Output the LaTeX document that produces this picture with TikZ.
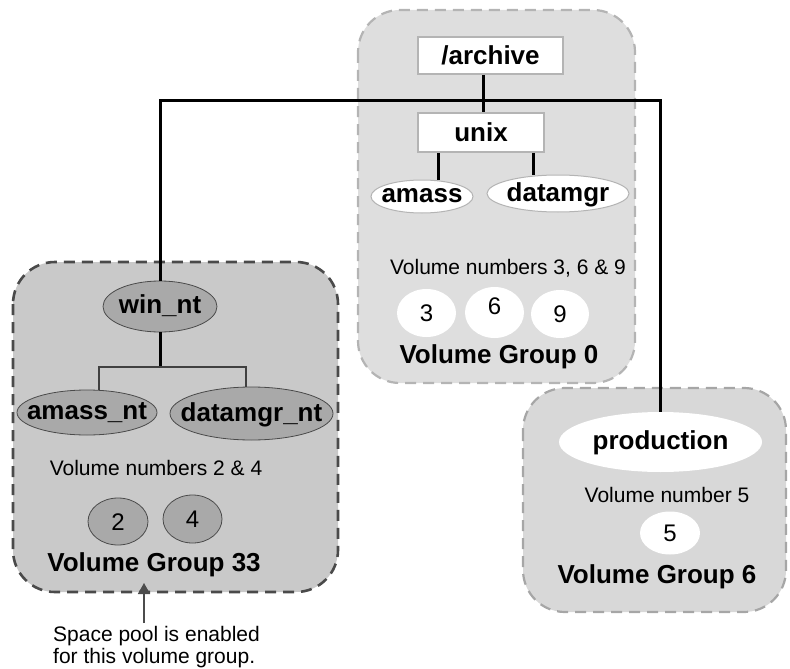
\documentclass[tikz,border=0pt]{standalone}
\usepackage{fontspec}
\setmainfont{Liberation Sans}
\usetikzlibrary{shapes.geometric,arrows.meta}
\definecolor{boxA}{HTML}{DEDEDE}
\definecolor{boxAline}{HTML}{B4B4B4}
\definecolor{boxB}{HTML}{C9C9C9}
\definecolor{boxBline}{HTML}{4A4A4A}
\definecolor{boxC}{HTML}{D8D8D8}
\definecolor{boxCline}{HTML}{A6A6A6}
\definecolor{darknode}{HTML}{A9A9A9}
\newcommand{\ctr}[2][0.3em]{\raisebox{-#1}{\makebox[0pt]{#2}}}
\tikzset{
  groupbox/.style={rounded corners=42pt, line width=2.2pt, dash pattern=on 11pt off 7pt},
  rectnode/.style={draw=boxAline, fill=white, line width=1.8pt, inner sep=0pt, font=\fontsize{26}{28}\selectfont\bfseries},
  fixell/.style={ellipse, inner sep=0pt, outer sep=0pt, text height=0pt, text depth=0pt},
  whiteell/.style={fixell, draw=boxAline, line width=1pt, fill=white, font=\fontsize{26}{28}\selectfont\bfseries},
  darkell/.style={fixell, draw=boxBline, line width=0.8pt, fill=darknode, font=\fontsize{26}{28}\selectfont\bfseries},
  plainell/.style={fixell, fill=white, font=\fontsize{24}{26}\selectfont},
  numell/.style={fixell, draw=boxBline, line width=0.8pt, fill=darknode, font=\fontsize{24}{26}\selectfont},
  note/.style={inner sep=0pt, font=\fontsize{21}{22}\selectfont},
  title/.style={inner sep=0pt, font=\fontsize{26}{28}\selectfont\bfseries},
  conn/.style={line width=3pt, black},
  bracket/.style={line width=2pt, black!75},
}
\begin{document}
\begin{tikzpicture}[x=1pt,y=-1pt]
\useasboundingbox (0,0) rectangle (790,669);
% group boxes
\path[groupbox, fill=boxA, draw=boxAline] (358,10) rectangle (635,383);
\path[groupbox, fill=boxC, draw=boxCline] (523,388) rectangle (786,612);
\path[groupbox, fill=boxB, draw=boxBline, line width=2.6pt] (13,262) rectangle (338,592);

% nodes: volume group 0
\node[rectnode, minimum width=145pt, minimum height=37pt] (archive) at (490.5,55.5) {/archive};
\node[rectnode, minimum width=126pt, minimum height=39pt] (unix) at (481,132.5) {unix};
\node[whiteell, minimum width=102pt, minimum height=33pt] (amass) at (422,196.5) {\ctr[0.22em]{amass}};
\node[whiteell, minimum width=142pt, minimum height=37pt] (datamgr) at (558,193.5) {\ctr{datamgr}};
\node[note] (vn0) at (508,268) {Volume numbers 3, 6 \& 9};
\node[plainell, minimum width=59pt, minimum height=48pt] (v3) at (426.5,313) {\ctr[0.36em]{3}};
\node[plainell, minimum width=59pt, minimum height=51pt] (v6) at (494.5,312.5) {\ctr[0.1em]{6}};
\node[plainell, minimum width=58pt, minimum height=48pt] (v9) at (560,314) {\ctr[0.36em]{9}};
\node[title] (vg0) at (499,357) {Volume Group 0};

% nodes: volume group 33
\node[darkell, minimum width=114pt, minimum height=51pt] (winnt) at (160,306.5) {\ctr[0.27em]{win\_nt}};
\node[darkell, minimum width=140pt, minimum height=45pt] (amassnt) at (87,412.5) {\ctr[0.27em]{amass\_nt}};
\node[darkell, minimum width=163pt, minimum height=53pt] (datamgrnt) at (251.5,413.5) {\ctr{datamgr\_nt}};
\node[note] (vn33) at (156,468) {Volume numbers 2 \& 4};
\node[numell, minimum width=60pt, minimum height=47pt] (v2) at (118,521.5) {\ctr[0.36em]{2}};
\node[numell, minimum width=59pt, minimum height=48pt] (v4) at (192.5,519) {\ctr[0.36em]{4}};
\node[title] (vg33) at (154,565) {Volume Group 33};

% nodes: volume group 6
\node[plainell, minimum width=203pt, minimum height=60pt, font=\fontsize{26}{28}\selectfont\bfseries] (production) at (660.5,442) {\ctr{production}};
\node[note] (vn6) at (667,495) {Volume number 5};
\node[plainell, minimum width=60pt, minimum height=43pt] (v5) at (670,533) {\ctr[0.36em]{5}};
\node[title] (vg6) at (657,577) {Volume Group 6};

% caption
\node[note, align=left, anchor=north west] (caption) at (53,626) {Space pool is enabled\\for this volume group.};

% connectors
\coordinate (hub) at (483,100);
\coordinate (br) at (160,367);
\draw[conn] (winnt.north) |- (hub) -| (production.north);
\draw[conn] (archive.south -| hub) -- (unix.north -| hub);
\draw[conn] ([xshift=-43pt]unix.south) -- ([xshift=-43pt]unix.south |- amass.north);
\draw[conn] ([xshift=52pt]unix.south) -- ([xshift=52pt]unix.south |- datamgr.north);
\draw[conn] (winnt.south) -- (br);
\draw[bracket] ([xshift=12pt]amassnt.north) |- (br) -| ([xshift=-6pt]datamgrnt.north);
\coordinate (arrtail) at (144,623);
\coordinate (arrtip) at (144,583);
\draw[line width=1.6pt, black!70, -{Triangle[length=11pt,width=12pt]}] (arrtail) -- (arrtip);
\end{tikzpicture}
\end{document}
